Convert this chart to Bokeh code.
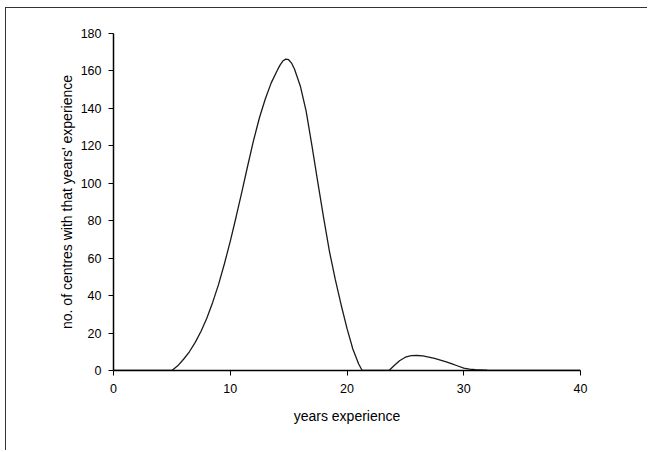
from bokeh.plotting import figure
from bokeh.models import Range1d, FixedTicker
from bokeh.embed import file_html
from bokeh.resources import INLINE

# Curve values
years = [0, 4, 5, 5.5, 6, 6.5, 7, 7.5, 8, 8.5, 9, 9.5, 10, 10.5, 11, 11.5, 12, 12.5,
         13, 13.5, 14, 14.25, 14.5, 14.75, 15, 15.25, 15.5, 16, 16.5, 17, 17.5, 18,
         18.5, 19, 19.5, 20, 20.5, 21, 21.3, 22, 23, 23.6, 24, 24.5, 25, 25.5, 26,
         26.5, 27, 27.5, 28, 28.5, 29, 29.5, 30, 30.5, 31, 32, 33, 34, 40]
centres = [0, 0, 0, 2.5, 6, 10, 15, 21, 28, 36.5, 46, 57, 69, 82, 95.5, 109.5, 123,
           135, 145, 153.5, 160, 163, 165.3, 166.3, 166, 164.2, 161, 152, 138.5, 120,
           100.5, 81.5, 63.5, 48.5, 35, 22.5, 11.5, 3.5, 0, 0, 0, 0, 2.4, 5.2, 7.1,
           7.9, 8, 7.8, 7.2, 6.5, 5.6, 4.6, 3.5, 2.4, 1.3, 0.7, 0.4, 0.2, 0.1, 0, 0]
x_ticks = [0, 10, 20, 30, 40]
y_ticks = [0, 20, 40, 60, 80, 100, 120, 140, 160, 180]
x_title = "years experience"
y_title = "no. of centres with that years' experience"

FONT = "Liberation Sans"

p = figure(width=642, height=443, output_backend="svg", toolbar_location=None,
           x_range=Range1d(0, 40), y_range=Range1d(0, 180),
           min_border_left=107, min_border_right=68, min_border_top=25,
           min_border_bottom=81,
           styles={"border-top": "1.5px solid #333", "border-left": "1.5px solid #333",
                   "margin-left": "5px", "margin-top": "7px"})

p.line(years, centres, line_color="#1a1a1a", line_width=1.3)

p.outline_line_color = None
p.xgrid.visible = False
p.ygrid.visible = False
p.background_fill_color = "white"
p.border_fill_color = "white"

for ax in (p.xaxis[0], p.yaxis[0]):
    ax.axis_line_color = "black"
    ax.axis_line_width = 1.5
    ax.major_tick_line_color = "black"
    ax.major_tick_line_width = 1
    ax.major_tick_out = 5
    ax.major_tick_in = 0
    ax.minor_tick_line_color = None
    ax.major_label_text_font = FONT
    ax.major_label_text_font_size = "12.5px"
    ax.major_label_text_color = "black"
    ax.axis_label_text_font = FONT
    ax.axis_label_text_font_size = "14px"
    ax.axis_label_text_font_style = "normal"
    ax.axis_label_text_color = "black"

p.xaxis[0].ticker = FixedTicker(ticks=x_ticks)
p.yaxis[0].ticker = FixedTicker(ticks=y_ticks)
p.xaxis[0].axis_label = x_title
p.yaxis[0].axis_label = y_title
p.xaxis[0].major_label_standoff = 8
p.xaxis[0].axis_label_standoff = 12
p.yaxis[0].major_label_standoff = 7
p.yaxis[0].axis_label_standoff = 3

open("out.html", "w").write(file_html(p, INLINE))
